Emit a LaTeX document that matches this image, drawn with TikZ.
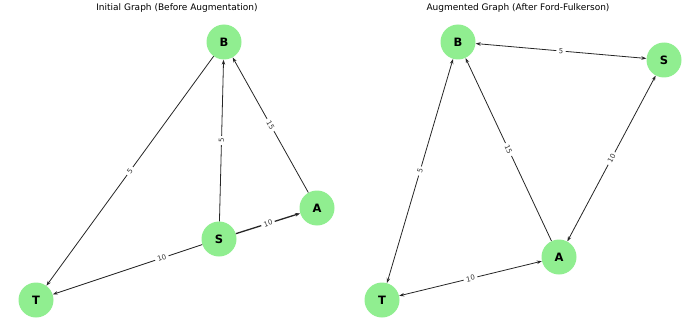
\documentclass[tikz,border=0pt]{standalone}
\usepackage{fontspec}
\setmainfont{DejaVu Sans}
\usetikzlibrary{arrows.meta}
\definecolor{lightgreen}{HTML}{90EE90}
\begin{document}
\begin{tikzpicture}[x=1pt,y=-1pt,
  vtx/.style={circle,fill=lightgreen,minimum size=35pt,inner sep=0pt,font=\fontsize{11.5}{11.5}\selectfont\bfseries},
  edge/.style={draw=black!85,line width=0.8pt,-{Stealth[length=5pt,width=3.5pt]}},
  bidir/.style={draw=black!85,line width=0.8pt,{Stealth[length=5pt,width=3.5pt]}-{Stealth[length=5pt,width=3.5pt]}},
  lbl/.style={fill=white,inner xsep=2.5pt,inner ysep=0.5pt,font=\fontsize{7}{7}\selectfont,sloped,text=black!80},
  ttl/.style={font=\fontsize{9}{9}\selectfont}]
\useasboundingbox (0,0) rectangle (700,334);
% titles
\node[ttl] (t1) at (177,8) {Initial Graph (Before Augmentation)};
\node[ttl] (t2) at (518,8) {Augmented Graph (After Ford-Fulkerson)};
% left graph
\node[vtx] (lB) at (224,42) {B};
\node[vtx] (lS) at (219,239) {S};
\node[vtx] (lA) at (317,208) {A};
\node[vtx] (lT) at (36,300) {T};
\draw[edge] (lB) -- node[lbl] {5} (lT);
\draw[edge] (lS) -- node[lbl] {5} (lB);
\draw[edge] (lA) -- node[lbl] {15} (lB);
\draw[edge,line width=1.3pt] (lS) -- node[lbl] {10} (lA);
\draw[edge] (lS) -- node[lbl,pos=0.27] {10} (lT);
% right graph
\node[vtx] (rB) at (458,42) {B};
\node[vtx] (rS) at (664,60) {S};
\node[vtx] (rA) at (559,257) {A};
\node[vtx] (rT) at (382,300) {T};
\draw[bidir] (rB) -- node[lbl] {5} (rS);
\draw[bidir] (rB) -- node[lbl] {5} (rT);
\draw[edge] (rA) -- node[lbl] {15} (rB);
\draw[bidir] (rA) -- node[lbl] {10} (rS);
\draw[bidir] (rT) -- node[lbl] {10} (rA);
\end{tikzpicture}
\end{document}
